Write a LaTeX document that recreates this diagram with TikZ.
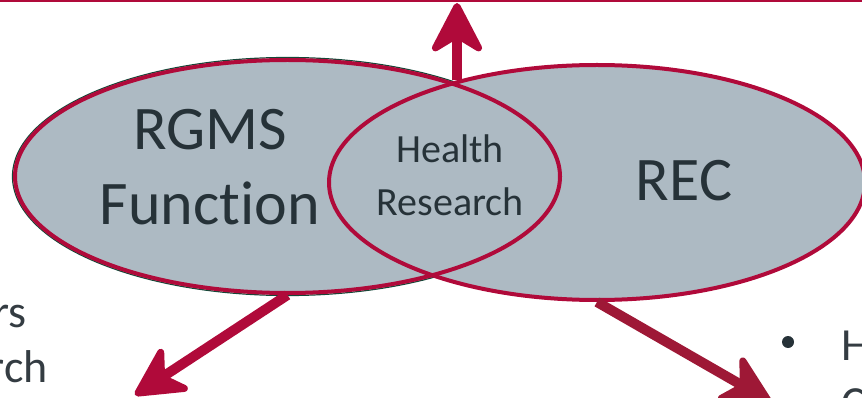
\documentclass[tikz,border=0pt]{standalone}
\usepackage{fontspec}
\setmainfont{Carlito}[Ligatures=NoCommon]
\usetikzlibrary{shapes.geometric,arrows.meta}
\definecolor{vred}{RGB}{176,10,58}
\definecolor{vdred}{RGB}{158,24,54}
\definecolor{vfill}{RGB}{173,186,195}
\definecolor{vtext}{RGB}{38,50,56}
\definecolor{vgray}{RGB}{52,60,66}
\definecolor{vgreen}{RGB}{20,72,56}
\begin{document}
\begin{tikzpicture}[x=1pt,y=-1pt,
  vennfill/.style={ellipse, fill=vfill, inner sep=0pt},
  vennline/.style={ellipse, draw=vred, line width=4pt, inner sep=0pt},
  bigarrow/.style={line width=10pt, -{Stealth[round,line width=7pt,length=58pt,width=60pt,inset=18pt]}},
  bigtext/.style={anchor=base, text=vtext, font=\fontsize{62}{62}\selectfont},
  midtext/.style={anchor=base, text=vtext, font=\fontsize{40}{40}\selectfont},
  sidetext/.style={text=vgray, font=\fontsize{46}{46}\selectfont, inner sep=0pt}]
\path[use as bounding box] (0,0) rectangle (862,398);
\clip (0,0) rectangle (862,398);
% top rule
\fill[vred] (0,0) rectangle (862,2.5);
% left ellipse green rim and fills
\node[ellipse, draw=vgreen, line width=1.2pt, inner sep=0pt, minimum width=550pt, minimum height=238pt] (Lrim) at (287.5,176.5) {};
\node[vennfill, minimum width=545pt, minimum height=233pt] (Lf) at (287.5,176.5) {};
\node[vennfill, minimum width=536pt, minimum height=235pt] (Rf) at (597,182.5) {};
\node[vennline, minimum width=545pt, minimum height=233pt] (L) at (287.5,176.5) {};
\node[vennline, minimum width=536pt, minimum height=235pt] (R) at (597,182.5) {};
% texts
\node[bigtext] (rgms) at (210,150) {RGMS};
\node[bigtext] (func) at (210,225) {Function};
\node[bigtext] (rec) at (684,201) {REC};
\node[midtext] (health) at (450,163) {Health};
\node[midtext] (research) at (450,215) {Research};
% arrows
\coordinate (lensTop) at (457,80);
\coordinate (topTip) at (457,3);
\coordinate (lTip) at (135,395);
\coordinate (rTip) at (771,402);
\draw[bigarrow, vred] (lensTop) -- (topTip);
\draw[bigarrow, vred] (L.south) -- (lTip);
\draw[bigarrow, vdred] (R.south) -- (rTip);
% side texts
\node[sidetext, anchor=base east] (rs) at (27,327) {rs};
\node[sidetext, anchor=base east] (rch) at (48,382) {rch};
\node[circle, fill=vtext, inner sep=0pt, minimum size=12pt] (bul) at (788,342) {};
\node[sidetext, anchor=base west] (hh) at (841,360) {H};
\node[sidetext, anchor=base west] (cc) at (841,418) {C};
\end{tikzpicture}
\end{document}
